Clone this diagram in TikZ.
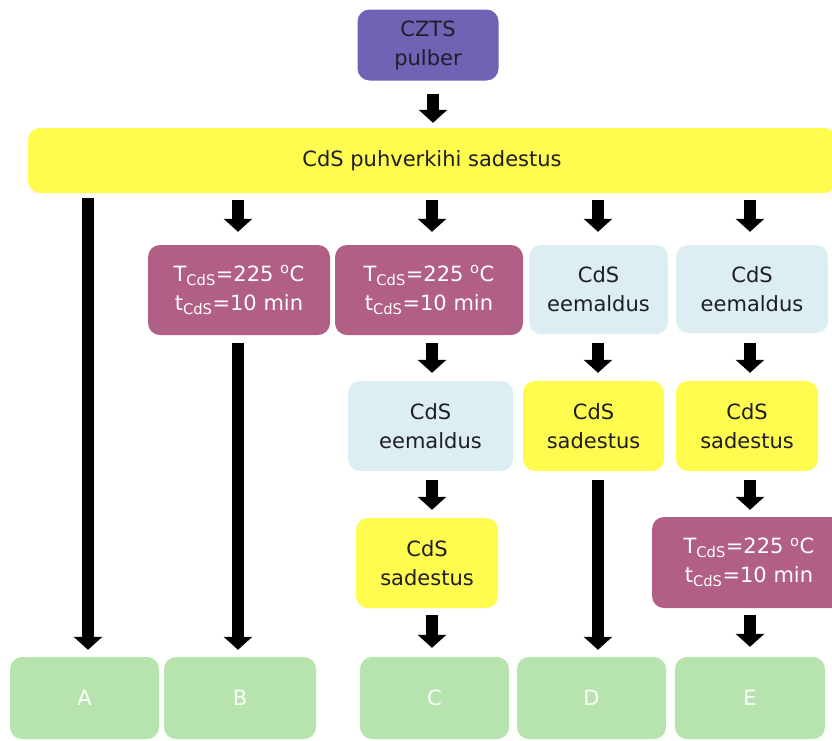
\documentclass[tikz,border=0pt]{standalone}
\usepackage{fontspec}
\setmainfont{DejaVu Sans}
\usetikzlibrary{arrows.meta}
\definecolor{purp}{HTML}{6F63B6}
\definecolor{yel}{HTML}{FFFB4F}
\definecolor{mag}{HTML}{B15F85}
\definecolor{lblue}{HTML}{DDEEF3}
\definecolor{grn}{HTML}{B6E3AE}
\definecolor{txtc}{HTML}{1E1E26}
\begin{document}
\begin{tikzpicture}[x=1pt,y=-1pt,
  box/.style={rounded corners=12pt, align=center, inner sep=0pt,
    font=\fontsize{21}{29}\selectfont, text=txtc},
  purpbox/.style={box, fill=purp},
  yelbox/.style={box, fill=yel},
  magbox/.style={box, fill=mag, text=white},
  bluebox/.style={box, fill=lblue},
  grnbox/.style={box, fill=grn, text=white, minimum height=82pt},
  blk/.style={draw=black, line width=12.5pt, -{Triangle[width=28pt,length=13pt]}},
]
\useasboundingbox (0,0) rectangle (832,740);
% columns
\coordinate (xA) at (88,0);
\coordinate (xB) at (238,0);
\coordinate (xC) at (432,0);
\coordinate (xD) at (598,0);
\coordinate (xE) at (750,0);
% nodes
\node[purpbox, minimum width=141pt, minimum height=71pt] (czts) at (428,45) {CZTS\\pulber};
\node[yelbox, minimum width=808pt, minimum height=65pt] (bar) at (432,160.5) {CdS puhverkihi sadestus};
\node[magbox, minimum width=182pt, minimum height=90pt] (mB) at (239,290) {T\textsubscript{CdS}=225 \textsuperscript{o}C\\t\textsubscript{CdS}=10 min};
\node[magbox, minimum width=188pt, minimum height=90pt] (mC) at (429,290) {T\textsubscript{CdS}=225 \textsuperscript{o}C\\t\textsubscript{CdS}=10 min};
\node[bluebox, minimum width=139pt, minimum height=89pt] (eD) at (598.5,289.5) {CdS\\eemaldus};
\node[bluebox, minimum width=152pt, minimum height=88pt] (eE) at (752,289) {CdS\\eemaldus};
\node[bluebox, minimum width=165pt, minimum height=90pt] (eC) at (430.5,426) {CdS\\eemaldus};
\node[yelbox, minimum width=141pt, minimum height=90pt] (sD) at (593.5,426) {CdS\\sadestus};
\node[yelbox, minimum width=142pt, minimum height=90pt] (sE) at (747,426) {CdS\\sadestus};
\node[yelbox, minimum width=142pt, minimum height=90pt] (sC) at (427,563) {CdS\\sadestus};
\node[magbox, minimum width=194pt, minimum height=91pt] (mE) at (749,562.5) {T\textsubscript{CdS}=225 \textsuperscript{o}C\\t\textsubscript{CdS}=10 min};
\node[grnbox, minimum width=149pt] (gA) at (84.5,698) {A};
\node[grnbox, minimum width=152pt] (gB) at (240,698) {B};
\node[grnbox, minimum width=149pt] (gC) at (434.5,698) {C};
\node[grnbox, minimum width=149pt] (gD) at (591.5,698) {D};
\node[grnbox, minimum width=150pt] (gE) at (750,698) {E};
% arrows
\draw[blk] ([yshift=-13pt]czts.south -| 433,0) -- ([yshift=5pt]bar.north -| 433,0);
\draw[blk] ([yshift=-5pt]bar.south -| xA) -- ([yshift=7pt]gA.north -| xA);
\draw[blk] ([yshift=-7pt]bar.south -| xB) -- ([yshift=13pt]mB.north -| xB);
\draw[blk] ([yshift=-7pt]bar.south -| xC) -- ([yshift=13pt]mC.north -| xC);
\draw[blk] ([yshift=-7pt]bar.south -| xD) -- ([yshift=13pt]eD.north -| xD);
\draw[blk] ([yshift=-7pt]bar.south -| xE) -- ([yshift=13pt]eE.north -| xE);
\draw[blk] ([yshift=-8pt]mB.south -| xB) -- ([yshift=7pt]gB.north -| xB);
\draw[blk] ([yshift=-8pt]mC.south -| xC) -- ([yshift=8pt]eC.north -| xC);
\draw[blk] ([yshift=-9pt]eD.south -| xD) -- ([yshift=8pt]sD.north -| xD);
\draw[blk] ([yshift=-10pt]eE.south -| xE) -- ([yshift=8pt]sE.north -| xE);
\draw[blk] ([yshift=-9pt]eC.south -| xC) -- ([yshift=8pt]sC.north -| xC);
\draw[blk] ([yshift=-9pt]sD.south -| xD) -- ([yshift=7pt]gD.north -| xD);
\draw[blk] ([yshift=-9pt]sE.south -| xE) -- ([yshift=7pt]mE.north -| xE);
\draw[blk] ([yshift=-7pt]sC.south -| xC) -- ([yshift=9pt]gC.north -| xC);
\draw[blk] ([yshift=-7pt]mE.south -| xE) -- ([yshift=10pt]gE.north -| xE);
\end{tikzpicture}
\end{document}
